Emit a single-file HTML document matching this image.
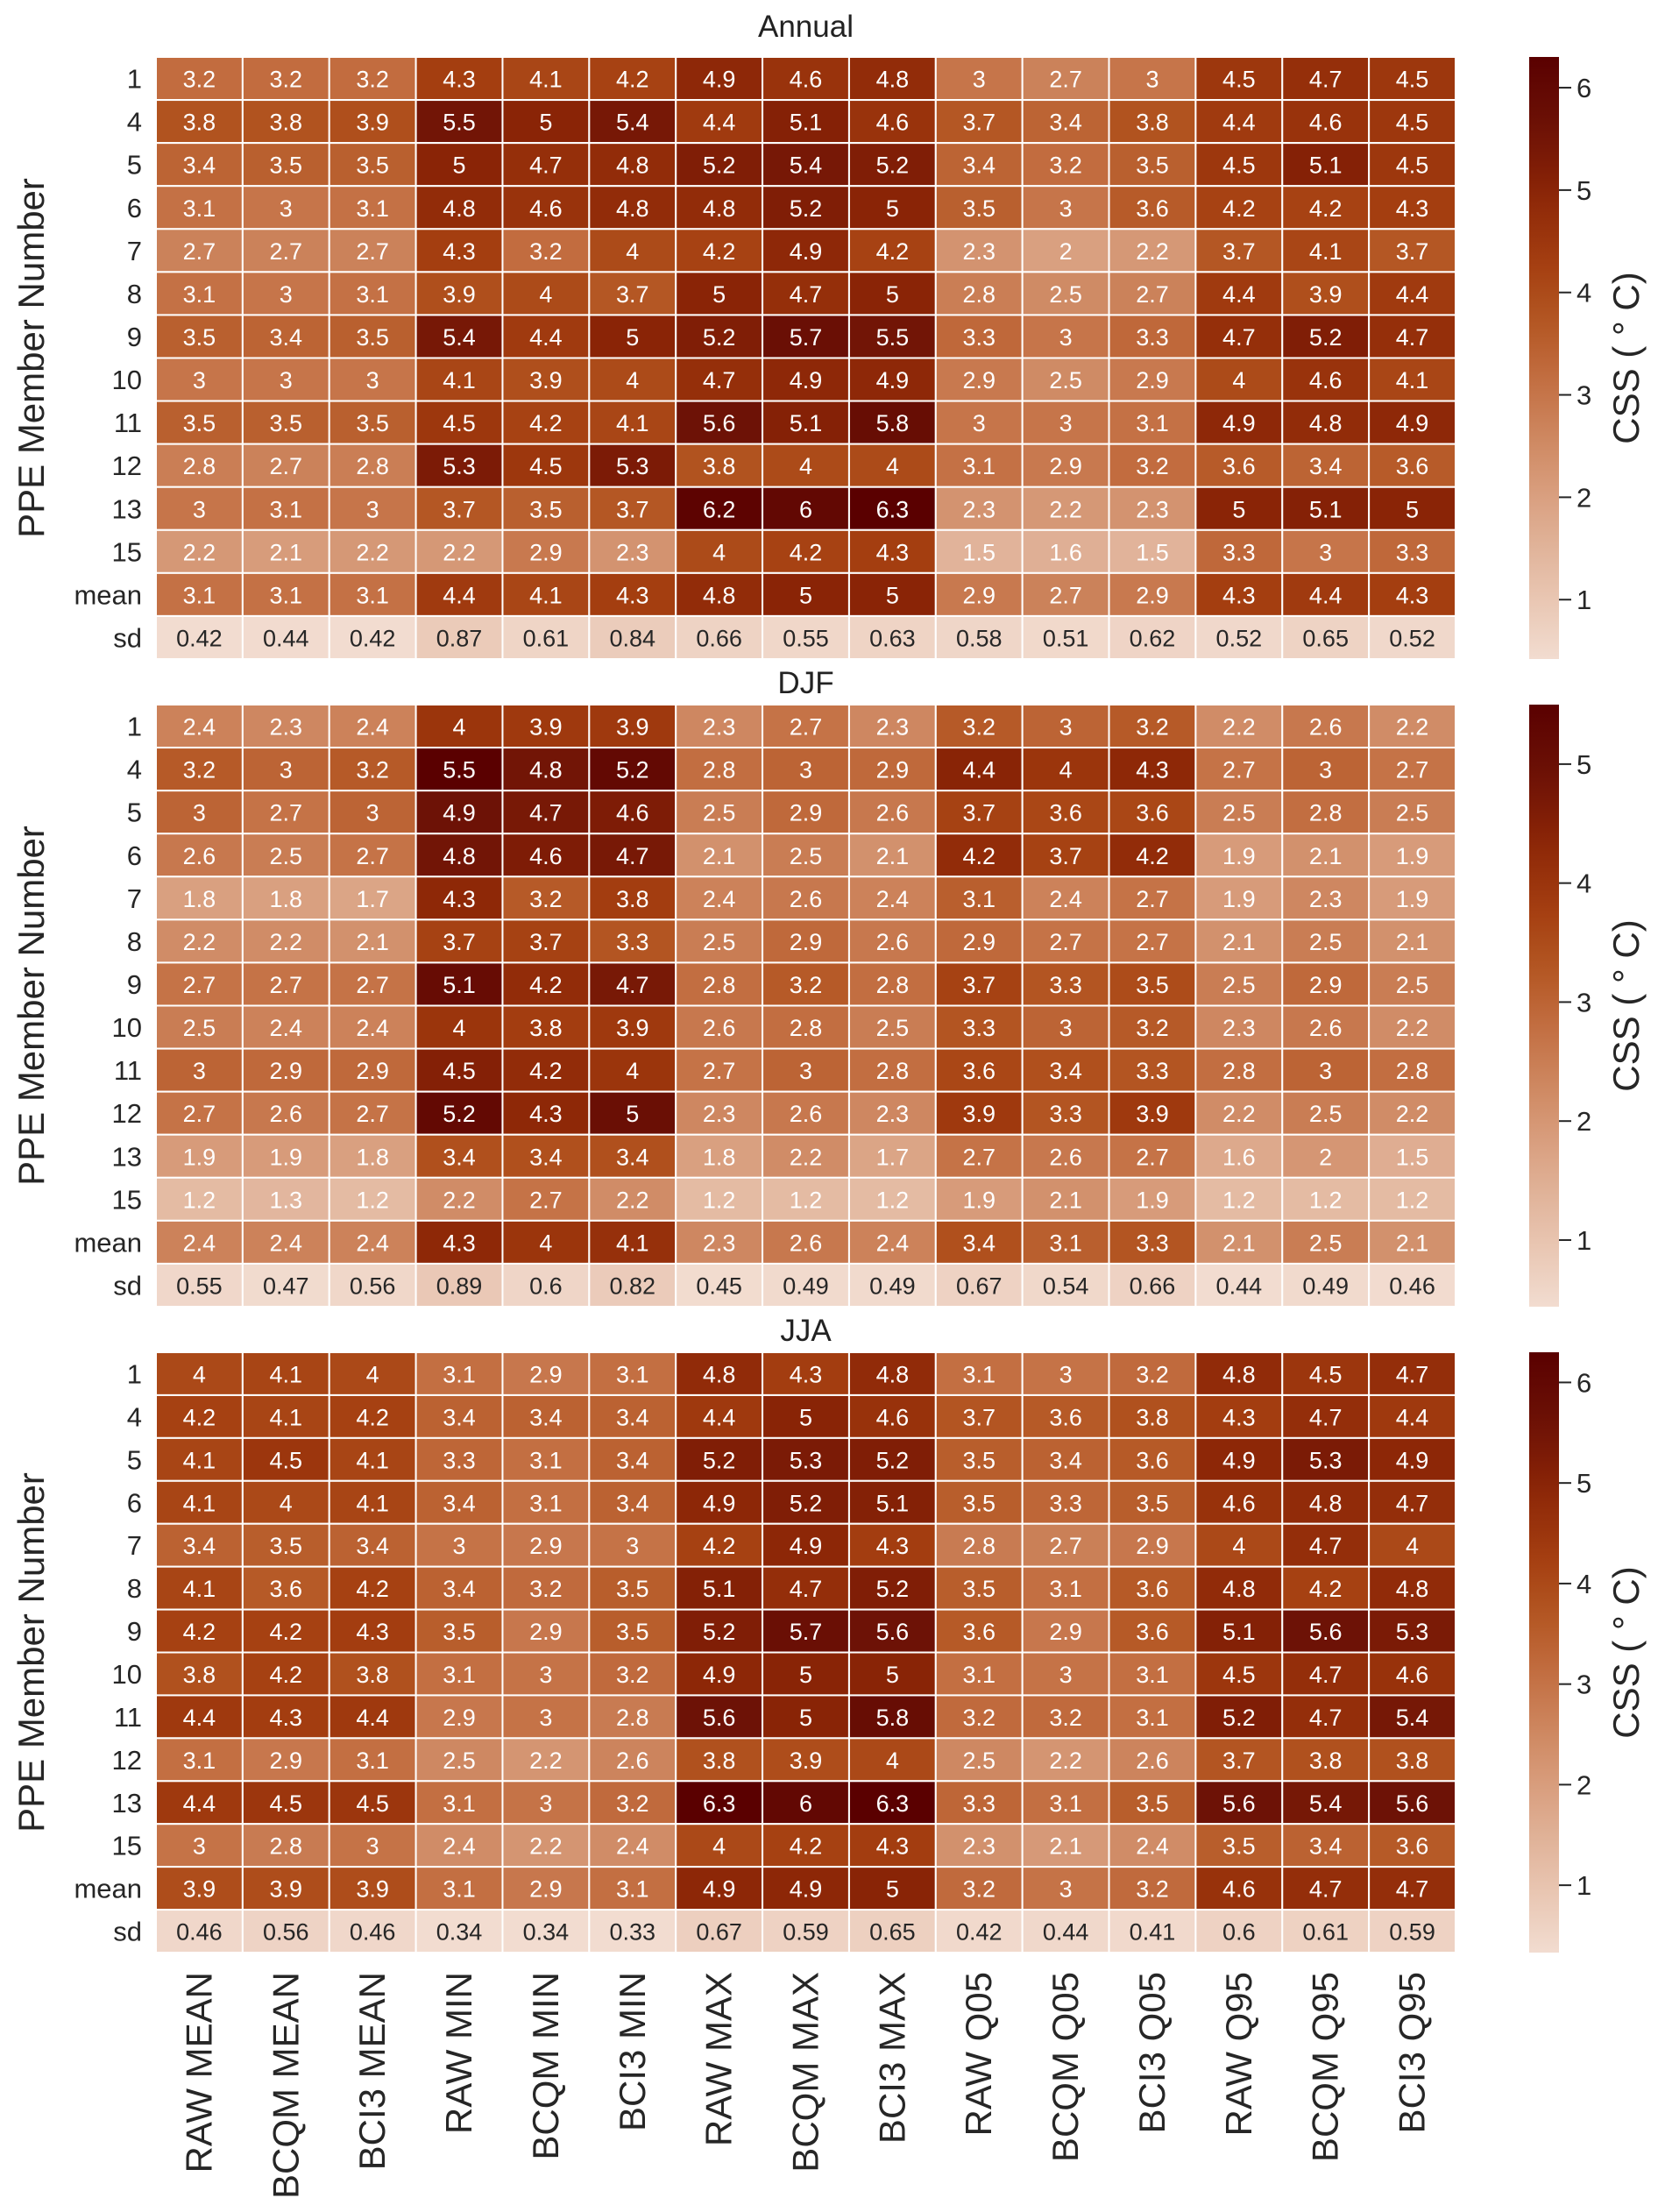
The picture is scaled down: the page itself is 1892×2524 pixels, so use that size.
<!DOCTYPE html>
<html><head><meta charset="utf-8"><style>
html,body{margin:0;padding:0;background:#fff;}
svg{display:block;font-family:"Liberation Sans",Arial,sans-serif;}
.num{font-family:"Liberation Sans Narrow","Liberation Sans",sans-serif;}
</style></head><body>
<svg id="chart" width="1892" height="2524" viewBox="0 0 1892 2524" xmlns="http://www.w3.org/2000/svg"></svg>
<script>
const columns = ["RAW MEAN","BCQM MEAN","BCI3 MEAN","RAW MIN","BCQM MIN","BCI3 MIN","RAW MAX","BCQM MAX","BCI3 MAX","RAW Q05","BCQM Q05","BCI3 Q05","RAW Q95","BCQM Q95","BCI3 Q95"];
const rowLabels = ["1","4","5","6","7","8","9","10","11","12","13","15","mean","sd"];
const panelTitles = ["Annual","DJF","JJA"];
const annualValues = [
[3.2,3.2,3.2,4.3,4.1,4.2,4.9,4.6,4.8,3,2.7,3,4.5,4.7,4.5],
[3.8,3.8,3.9,5.5,5,5.4,4.4,5.1,4.6,3.7,3.4,3.8,4.4,4.6,4.5],
[3.4,3.5,3.5,5,4.7,4.8,5.2,5.4,5.2,3.4,3.2,3.5,4.5,5.1,4.5],
[3.1,3,3.1,4.8,4.6,4.8,4.8,5.2,5,3.5,3,3.6,4.2,4.2,4.3],
[2.7,2.7,2.7,4.3,3.2,4,4.2,4.9,4.2,2.3,2,2.2,3.7,4.1,3.7],
[3.1,3,3.1,3.9,4,3.7,5,4.7,5,2.8,2.5,2.7,4.4,3.9,4.4],
[3.5,3.4,3.5,5.4,4.4,5,5.2,5.7,5.5,3.3,3,3.3,4.7,5.2,4.7],
[3,3,3,4.1,3.9,4,4.7,4.9,4.9,2.9,2.5,2.9,4,4.6,4.1],
[3.5,3.5,3.5,4.5,4.2,4.1,5.6,5.1,5.8,3,3,3.1,4.9,4.8,4.9],
[2.8,2.7,2.8,5.3,4.5,5.3,3.8,4,4,3.1,2.9,3.2,3.6,3.4,3.6],
[3,3.1,3,3.7,3.5,3.7,6.2,6,6.3,2.3,2.2,2.3,5,5.1,5],
[2.2,2.1,2.2,2.2,2.9,2.3,4,4.2,4.3,1.5,1.6,1.5,3.3,3,3.3],
[3.1,3.1,3.1,4.4,4.1,4.3,4.8,5,5,2.9,2.7,2.9,4.3,4.4,4.3],
[0.42,0.44,0.42,0.87,0.61,0.84,0.66,0.55,0.63,0.58,0.51,0.62,0.52,0.65,0.52]];
const djfValues = [
[2.4,2.3,2.4,4,3.9,3.9,2.3,2.7,2.3,3.2,3,3.2,2.2,2.6,2.2],
[3.2,3,3.2,5.5,4.8,5.2,2.8,3,2.9,4.4,4,4.3,2.7,3,2.7],
[3,2.7,3,4.9,4.7,4.6,2.5,2.9,2.6,3.7,3.6,3.6,2.5,2.8,2.5],
[2.6,2.5,2.7,4.8,4.6,4.7,2.1,2.5,2.1,4.2,3.7,4.2,1.9,2.1,1.9],
[1.8,1.8,1.7,4.3,3.2,3.8,2.4,2.6,2.4,3.1,2.4,2.7,1.9,2.3,1.9],
[2.2,2.2,2.1,3.7,3.7,3.3,2.5,2.9,2.6,2.9,2.7,2.7,2.1,2.5,2.1],
[2.7,2.7,2.7,5.1,4.2,4.7,2.8,3.2,2.8,3.7,3.3,3.5,2.5,2.9,2.5],
[2.5,2.4,2.4,4,3.8,3.9,2.6,2.8,2.5,3.3,3,3.2,2.3,2.6,2.2],
[3,2.9,2.9,4.5,4.2,4,2.7,3,2.8,3.6,3.4,3.3,2.8,3,2.8],
[2.7,2.6,2.7,5.2,4.3,5,2.3,2.6,2.3,3.9,3.3,3.9,2.2,2.5,2.2],
[1.9,1.9,1.8,3.4,3.4,3.4,1.8,2.2,1.7,2.7,2.6,2.7,1.6,2,1.5],
[1.2,1.3,1.2,2.2,2.7,2.2,1.2,1.2,1.2,1.9,2.1,1.9,1.2,1.2,1.2],
[2.4,2.4,2.4,4.3,4,4.1,2.3,2.6,2.4,3.4,3.1,3.3,2.1,2.5,2.1],
[0.55,0.47,0.56,0.89,0.6,0.82,0.45,0.49,0.49,0.67,0.54,0.66,0.44,0.49,0.46]];
const jjaValues = [
[4,4.1,4,3.1,2.9,3.1,4.8,4.3,4.8,3.1,3,3.2,4.8,4.5,4.7],
[4.2,4.1,4.2,3.4,3.4,3.4,4.4,5,4.6,3.7,3.6,3.8,4.3,4.7,4.4],
[4.1,4.5,4.1,3.3,3.1,3.4,5.2,5.3,5.2,3.5,3.4,3.6,4.9,5.3,4.9],
[4.1,4,4.1,3.4,3.1,3.4,4.9,5.2,5.1,3.5,3.3,3.5,4.6,4.8,4.7],
[3.4,3.5,3.4,3,2.9,3,4.2,4.9,4.3,2.8,2.7,2.9,4,4.7,4],
[4.1,3.6,4.2,3.4,3.2,3.5,5.1,4.7,5.2,3.5,3.1,3.6,4.8,4.2,4.8],
[4.2,4.2,4.3,3.5,2.9,3.5,5.2,5.7,5.6,3.6,2.9,3.6,5.1,5.6,5.3],
[3.8,4.2,3.8,3.1,3,3.2,4.9,5,5,3.1,3,3.1,4.5,4.7,4.6],
[4.4,4.3,4.4,2.9,3,2.8,5.6,5,5.8,3.2,3.2,3.1,5.2,4.7,5.4],
[3.1,2.9,3.1,2.5,2.2,2.6,3.8,3.9,4,2.5,2.2,2.6,3.7,3.8,3.8],
[4.4,4.5,4.5,3.1,3,3.2,6.3,6,6.3,3.3,3.1,3.5,5.6,5.4,5.6],
[3,2.8,3,2.4,2.2,2.4,4,4.2,4.3,2.3,2.1,2.4,3.5,3.4,3.6],
[3.9,3.9,3.9,3.1,2.9,3.1,4.9,4.9,5,3.2,3,3.2,4.6,4.7,4.7],
[0.46,0.56,0.46,0.34,0.34,0.33,0.67,0.59,0.65,0.42,0.44,0.41,0.6,0.61,0.59]];
const cbarTicksAnnual = [1,2,3,4,5,6];
const cbarTicksDjf = [1,2,3,4,5];
const cbarTicksJja = [1,2,3,4,5,6];

const svg = document.getElementById('chart');
const NS = 'http://www.w3.org/2000/svg';
function mk(tag, attrs, parent){const e=document.createElementNS(NS,tag);for(const k in attrs)e.setAttribute(k,attrs[k]);(parent||svg).appendChild(e);return e;}

const stops=[[0,[242,220,208]],[0.27,[217,160,128]],[0.47,[194,109,64]],[0.57,[178,84,32]],[0.66,[164,62,16]],[0.78,[138,36,6]],[0.88,[109,18,6]],[1,[90,0,0]]];
function cmap(t){t=Math.max(0,Math.min(1,t));for(let i=1;i<stops.length;i++){if(t<=stops[i][0]){const a=stops[i-1],b=stops[i];const f=(t-a[0])/(b[0]-a[0]);const c=a[1].map((v,j)=>Math.round(v+(b[1][j]-v)*f));return {rgb:`rgb(${c[0]},${c[1]},${c[2]})`,lum:(0.299*c[0]+0.587*c[1]+0.114*c[2])};}}return {rgb:'rgb(90,0,0)',lum:30};}

const X0=178, X1=1661, NC=columns.length, CW=(X1-X0)/NC;
const panels=[{title:panelTitles[0],vals:annualValues,ticks:cbarTicksAnnual,y0:65,y1:752,ty:42},
{title:panelTitles[1],vals:djfValues,ticks:cbarTicksDjf,y0:804,y1:1491,ty:791},
{title:panelTitles[2],vals:jjaValues,ticks:cbarTicksJja,y0:1543,y1:2228,ty:1530}];
const CBX=1745, CBW=34;
panels.forEach((p,pi)=>{
  const flat=p.vals.flat();const vmin=Math.min(...flat), vmax=Math.max(...flat);
  const NR=rowLabels.length, RH=(p.y1-p.y0)/NR;
  const xs=i=>X0+i*CW, ys=r=>p.y0+r*RH, norm=v=>(v-vmin)/(vmax-vmin);
  const g=mk('g',{});
  
  
  const t=mk('text',{x:(X0+X1)/2,y:p.ty,'text-anchor':'middle','font-size':35,fill:'#222'},g);t.textContent=p.title;
  
  
  p.vals.forEach((row,r)=>{
    row.forEach((v,c)=>{
      const col=cmap(norm(v));
      const rc=mk('rect',{x:xs(c),y:ys(r),width:CW,height:RH,fill:col.rgb,stroke:'#fff','stroke-width':2},g);
      
      
      const tx=mk('text',{x:xs(c)+CW/2,y:ys(r)+RH/2+10,'text-anchor':'middle','font-size':27,fill:col.lum>200?'#262626':'#fff',class:'num'},g);
      tx.textContent=String(v);
      
      
    });
    const yl=mk('text',{x:X0-16,y:ys(r)+RH/2+11,'text-anchor':'end','font-size':31,fill:'#262626'},g);
    yl.textContent=rowLabels[r];
    
    
  });
  const ya=mk('text',{transform:`translate(50,${(p.y0+p.y1)/2}) rotate(-90)`,'text-anchor':'middle','font-size':42,fill:'#262626'},g);
  ya.textContent='PPE Member Number';
  
  
  const gid='cg'+pi;
  const defs=mk('defs',{},g);const lg=mk('linearGradient',{id:gid,x1:0,y1:1,x2:0,y2:0},defs);
  for(let k=0;k<=20;k++){mk('stop',{offset:k/20,'stop-color':cmap(k/20).rgb},lg);}
  const cb=mk('rect',{x:CBX,y:p.y0,width:CBW,height:p.y1-p.y0,fill:`url(#${gid})`},g);
  
  
  p.ticks.forEach(tv=>{
    const yy=p.y1-norm(tv)*(p.y1-p.y0);
    mk('line',{x1:CBX+CBW,x2:CBX+CBW+14,y1:yy,y2:yy,stroke:'#262626','stroke-width':2},g);
    const tl=mk('text',{x:CBX+CBW+20,y:yy+11,'font-size':31,fill:'#262626'},g);tl.textContent=String(tv);
    
    
  });
  const cl=mk('text',{transform:`translate(1870,${(p.y0+p.y1)/2}) rotate(-90)`,'text-anchor':'middle','font-size':42,fill:'#262626'},g);
  cl.textContent='CSS ( ° C)';
  
  
});
columns.forEach((c,i)=>{
  const x=X0+i*CW+CW/2+14;
  const t=mk('text',{transform:`translate(${x},2250) rotate(-90)`,'text-anchor':'end','font-size':42,fill:'#262626'});
  t.textContent=c;
  
  
});
</script>
</body></html>
